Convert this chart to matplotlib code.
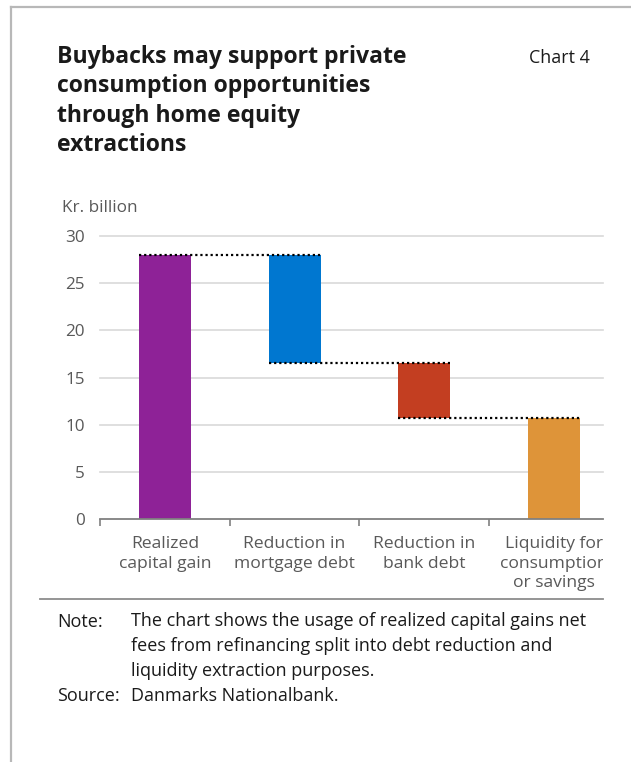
"""Waterfall: usage of realized capital gains from buybacks (Chart 4)."""

import matplotlib

matplotlib.use("Agg")
import matplotlib.pyplot as plt
from matplotlib.lines import Line2D
from matplotlib.transforms import Bbox, TransformedBbox

W, H = 631, 762

CATEGORIES = [
    "Realized\ncapital gain",
    "Reduction in\nmortgage debt",
    "Reduction in\nbank debt",
    "Liquidity for\nconsumption\nor savings",
]
# bar bottoms and tops, kr. billion
BAR_BOTTOM = [0.0, 16.5, 10.7, 0.0]
BAR_TOP = [28.0, 28.0, 16.5, 10.7]
COLOURS = ["#8e2297", "#0077d0", "#c33e21", "#de9439"]
YTICKS = [0, 5, 10, 15, 20, 25, 30]

TITLE = ("Buybacks may support private\nconsumption opportunities\n"
         "through home equity\nextractions")
NOTE = ("The chart shows the usage of realized capital gains net\n"
        "fees from refinancing split into debt reduction and\n"
        "liquidity extraction purposes.")

TEXT = "#1a1a1a"
GREY = "#595959"
SANS = "Open Sans"


def px(x, y):
    """Pixel position (from top-left) to figure fraction."""
    return x / W, 1 - y / H


fig = plt.figure(figsize=(W / 100, H / 100), dpi=100)

# outer frame: top and left rules only
frame = dict(color="#b8b8b8", linewidth=1.6, transform=fig.transFigure)
fig.add_artist(Line2D([11 / W, 1], [1 - 7 / H] * 2, **frame))
fig.add_artist(Line2D([11 / W] * 2, [1 - 7 / H, 0], **frame))

fig.text(*px(57, 45), TITLE, fontsize=16.6, fontweight="bold", family=SANS,
         color=TEXT, va="top", ha="left", linespacing=1.3)
fig.text(*px(590, 58), "Chart 4", fontsize=12.9, family=SANS, color=TEXT,
         va="center", ha="right")
fig.text(*px(62, 208), "Kr. billion", fontsize=12.3, family=SANS, color=GREY,
         va="center", ha="left")

# axes placed in pixels: x 100..603, y 0 at 519 px, 9.433 px per unit
ymax = 30.3
ax_h = ymax * 9.433
ax = fig.add_axes([100 / W, 1 - 519 / H, 503 / W, ax_h / H])

xs = list(range(len(CATEGORIES)))
heights = [t - b for t, b in zip(BAR_TOP, BAR_BOTTOM)]
ax.bar(xs, heights, bottom=BAR_BOTTOM, width=0.4, color=COLOURS, zorder=2)

# dotted connectors: from a bar's left edge to the next bar's right edge
for i in range(len(xs) - 1):
    level = BAR_TOP[i + 1] if i == 0 else BAR_BOTTOM[i]
    ax.plot([xs[i] - 0.2, xs[i + 1] + 0.2], [level, level], color="black",
            linewidth=1.6, linestyle=(0, (1, 1.3)), zorder=3,
            solid_capstyle="butt", dash_capstyle="butt")

ax.set_xlim(-0.5, 3.377)
ax.set_ylim(0, ymax)
ax.set_yticks(YTICKS)
ax.set_yticklabels([str(v) for v in YTICKS], family=SANS, fontsize=12.3,
                   color=GREY)
ax.set_xticks(xs)
ax.set_xticklabels(CATEGORIES, family=SANS, fontsize=12.6, color=GREY,
                   linespacing=1.32, va="top")
ax.set_xticks([x - 0.5 for x in xs], minor=True)
ax.tick_params(axis="y", length=0, pad=11)
ax.tick_params(axis="x", which="major", length=0, pad=12)
ax.tick_params(axis="x", which="minor", length=5, width=1.2, color="#808080")
for y in YTICKS[1:]:
    ax.axhline(y, color="#d9d9d9", linewidth=1.2, zorder=1, clip_on=False)
for side in ("top", "right", "left"):
    ax.spines[side].set_visible(False)
ax.spines["bottom"].set_color("#808080")
ax.spines["bottom"].set_linewidth(1.3)

# the source chart is cut off at the plot's right edge
clip = TransformedBbox(Bbox.from_extents(0, 0, 603 / W, 1), fig.transFigure)
for lab in ax.get_xticklabels():
    lab.set_clip_box(clip)
    lab.set_clip_on(True)

fig.add_artist(Line2D([40 / W, 603 / W], [1 - 599 / H] * 2, color="#8c8c8c",
                      linewidth=1.3, transform=fig.transFigure))

fig.text(*px(57, 622), "Note:", fontsize=13, family=SANS, color=TEXT,
         va="center", ha="left")
fig.text(*px(131, 612), NOTE, fontsize=13, family=SANS, color=TEXT,
         va="top", ha="left", linespacing=1.5)
fig.text(*px(57, 696), "Source:", fontsize=13, family=SANS, color=TEXT,
         va="center", ha="left")
fig.text(*px(131, 696), "Danmarks Nationalbank.", fontsize=13, family=SANS,
         color=TEXT, va="center", ha="left")

fig.savefig("out.png", dpi=100, facecolor="white")
